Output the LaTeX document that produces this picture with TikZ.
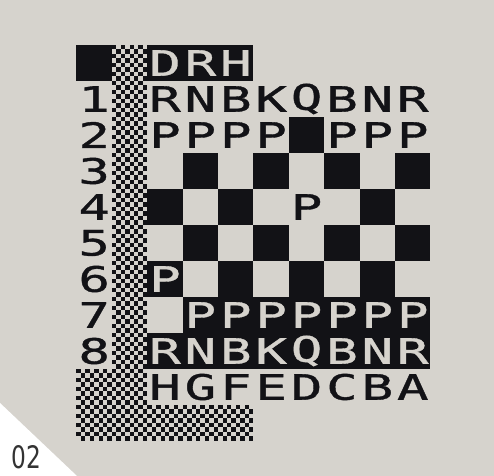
\documentclass[tikz,border=0pt]{standalone}
\usepackage{xcolor}
\usepackage{fontspec}
\usepackage{tikz}
\usetikzlibrary{positioning}

\newfontfamily\zxfont[FakeStretch=1.5,FakeBold=1]{DejaVu Sans Mono}
\newfontfamily\labelfont[FakeStretch=0.75]{DejaVu Sans}
\definecolor{paper}{RGB}{214,211,205}
\definecolor{zxink}{RGB}{18,18,22}

\tikzset{
  zxchar/.style={inner sep=0pt, text=zxink, font=\zxfont\fontsize{35}{35}\selectfont},
  zxinv/.style={zxchar, text=paper},
}

\begin{document}
\begin{tikzpicture}[x=35.4pt, y=-36pt]
% one character cell = one unit, origin at the top left cell of the screen
\useasboundingbox (-2.161,-1.25) rectangle (11.794,11.972);
\fill[paper] (-2.161,-1.25) rectangle (11.794,11.972);
\fill[white] (-2.161,9.944) -- (0.014,11.972) -- (-2.161,11.972) -- cycle;
\node[font=\labelfont\fontsize{31}{31}\selectfont, text=black!80, inner sep=0pt] (plate) at (-1.413,11.44) {02};

% black squares and inverse cells
\fill[zxink] (0,0) rectangle (1,1);
\fill[zxink] (2,0) rectangle (5,1);
\foreach \c/\r in {6/2, 3/3,5/3,7/3,9/3, 2/4,4/4,8/4, 3/5,5/5,7/5,9/5, 2/6,4/6,6/6,8/6}
  \fill[zxink] (\c,\r) rectangle ++(1,1);
\fill[zxink] (3,7) rectangle (10,8);
\fill[zxink] (2,8) rectangle (10,9);

% grey blocks (8x8 pixel checker per cell)
\fill[zxink] (1,0) rectangle (2,11);
\fill[zxink] (0,9) rectangle (1,11);
\fill[zxink] (2,10) rectangle (5,11);
\foreach \j in {0,...,87} {
  \pgfmathtruncatemacro\k{mod(\j,2)}
  \foreach \i in {0,2,4,6}
    \fill[paper] ({1+(\i+1-\k)/8},{\j/8}) rectangle ++(0.125,0.125);
}
\foreach \j in {72,...,87} {
  \pgfmathtruncatemacro\k{mod(\j,2)}
  \foreach \i in {0,2,4,6}
    \fill[paper] ({(\i+1-\k)/8},{\j/8}) rectangle ++(0.125,0.125);
}
\foreach \j in {80,...,87} {
  \pgfmathtruncatemacro\k{mod(\j,2)}
  \foreach \i in {0,2,...,22}
    \fill[paper] ({2+(\i+1-\k)/8},{\j/8}) rectangle ++(0.125,0.125);
}

% title and rank numbers
\foreach \t [count=\i from 2] in {D,R,H}
  \node[zxinv] (title\i) at (\i+0.5,0.5) {\t};
\foreach \n in {1,...,8}
  \node[zxchar] (rank\n) at (0.5,\n+0.5) {\n};

% pieces
\foreach \p [count=\i from 2] in {R,N,B,K,Q,B,N,R}
  \node[zxchar] (wback\i) at (\i+0.5,1.5) {\p};
\foreach \i in {2,3,4,5,7,8,9}
  \node[zxchar] (wpawn\i) at (\i+0.5,2.5) {P};
\node[zxchar] (wpawn6) at (6.5,4.5) {P};
\node[zxinv] (bpawn2) at (2.5,6.5) {P};
\foreach \i in {3,...,9}
  \node[zxinv] (bpawn\i) at (\i+0.5,7.5) {P};
\foreach \p [count=\i from 2] in {R,N,B,K,Q,B,N,R}
  \node[zxinv] (bback\i) at (\i+0.5,8.5) {\p};

% file letters
\foreach \f [count=\i from 2] in {H,G,F,E,D,C,B,A}
  \node[zxchar] (file\i) at (\i+0.5,9.5) {\f};
\end{tikzpicture}
\end{document}
